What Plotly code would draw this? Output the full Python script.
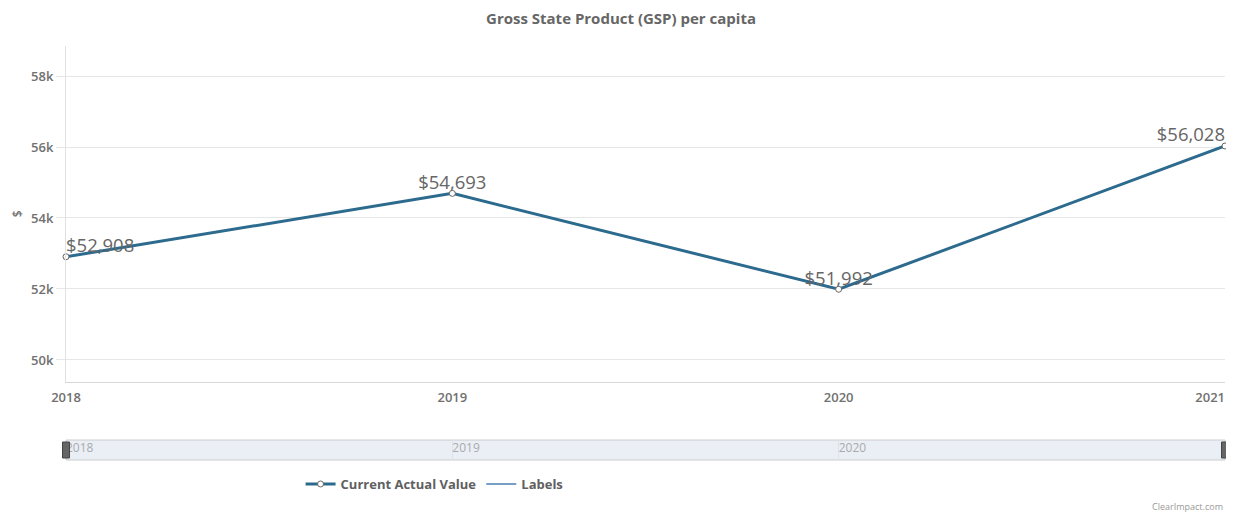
# Line chart of GSP per capita, with a Highcharts-style navigator strip underneath.
# Page body has an 8px default margin, so the figure is sized 8px smaller each way.

import plotly.graph_objects as go

years = [2018, 2019, 2020, 2021]
gsp_per_capita = [52908, 54693, 51992, 56028]
y_ticks = [50000, 52000, 54000, 56000, 58000]
y_tick_labels = ['50k', '52k', '54k', '56k', '58k']
navigator_ticks = [2018, 2019, 2020]

LINE = '#2c6a8e'
TEXT = '#707070'
FONT = 'Open Sans'

labels = ['$' + format(v, ',') for v in gsp_per_capita]
positions = ['top right'] + ['top center'] * (len(years) - 2) + ['top left']

fig = go.Figure()

fig.add_trace(go.Scatter(
    x=years,
    y=gsp_per_capita,
    mode='lines+markers',
    name='Current Actual Value',
    line=dict(color=LINE, width=3),
    marker=dict(size=6, color='white', line=dict(color='#666666', width=1)),
    hovertemplate='%{x}: $%{y:,}<extra></extra>',
    cliponaxis=False,
))

# value labels as a text-only layer so they sit close to the points
fig.add_trace(go.Scatter(
    x=years,
    y=gsp_per_capita,
    mode='text',
    text=labels,
    textposition=positions,
    textfont=dict(family=FONT, size=18.5, color='#666666'),
    showlegend=False,
    hoverinfo='skip',
    cliponaxis=False,
))

# empty series only so the legend shows the "Labels" entry
fig.add_trace(go.Scatter(
    x=[None], y=[None], mode='lines', name='Labels',
    line=dict(color='#4a7fb0', width=1.5),
))

# invisible copy on an overlay axis that carries the last year's label (pulled left)
fig.add_trace(go.Scatter(
    x=years, y=gsp_per_capita, xaxis='x3', yaxis='y', mode='lines',
    line=dict(color='rgba(0,0,0,0)', width=0), showlegend=False, hoverinfo='skip',
))

# navigator strip (no series drawn inside, just grid + labels)
fig.add_trace(go.Scatter(
    x=years, y=gsp_per_capita, xaxis='x2', yaxis='y2', mode='lines',
    line=dict(color='rgba(0,0,0,0)', width=0), showlegend=False, hoverinfo='skip',
))

fig.update_layout(
    width=1226,
    height=504,
    paper_bgcolor='white',
    plot_bgcolor='white',
    font=dict(family=FONT, color=TEXT, size=12),
    margin=dict(l=58, r=9, t=38, b=52, autoexpand=False),
    title=dict(
        text='Gross State Product (GSP) per capita',
        x=0.5, xanchor='center', yref='container', y=0.978, yanchor='middle',
        font=dict(family=FONT, size=15, color='#666666', weight='bold'),
    ),
    xaxis=dict(
        range=[years[0], years[-1]],
        tickvals=years[:-1],
        ticktext=[str(y) for y in years[:-1]],
        ticklabelstandoff=3,
        showgrid=False,
        showline=True, linecolor='#d8d8d8', linewidth=1,
        ticks='', zeroline=False,
        tickfont=dict(family=FONT, size=13, color=TEXT, weight=600),
        anchor='y',
        automargin=False,
        fixedrange=True,
    ),
    xaxis3=dict(
        overlaying='x',
        matches='x',
        anchor='y',
        side='bottom',
        tickvals=years[-1:],
        ticktext=[str(y) for y in years[-1:]],
        ticklabelposition='outside left',
        ticklabeloverflow='allow',
        ticklabelstandoff=6,
        showgrid=False, showline=False, zeroline=False, ticks='',
        tickfont=dict(family=FONT, size=13, color=TEXT, weight=600),
        automargin=False,
        fixedrange=True,
    ),
    yaxis=dict(
        domain=[0.1884, 1],
        range=[49380, 58845],
        tickvals=y_ticks,
        ticktext=y_tick_labels,
        showgrid=True, gridcolor='#e6e6e6', gridwidth=1,
        showline=True, linecolor='#e0e0e0', linewidth=1,
        ticks='outside', ticklen=9, tickcolor='#e6e6e6',
        zeroline=False,
        tickfont=dict(family=FONT, size=13, color=TEXT, weight=600),
        automargin=False,
        fixedrange=True,
    ),
    xaxis2=dict(
        range=[years[0], years[-1]],
        tickvals=navigator_ticks,
        ticktext=[str(y) for y in navigator_ticks],
        ticklabelposition='inside right',
        showgrid=True, gridcolor='#dde3ec', gridwidth=1,
        showline=False, zeroline=False, ticks='',
        tickfont=dict(family=FONT, size=12, color='#aaaaaa'),
        anchor='y2',
        automargin=False,
        fixedrange=True,
    ),
    yaxis2=dict(
        domain=[0, 0.0483],
        range=[0, 1],
        visible=False,
        fixedrange=True,
    ),
    legend=dict(
        orientation='h',
        x=0.318, xanchor='center',
        y=-0.058, yanchor='middle',
        font=dict(family=FONT, size=13, color='#606060', weight='bold'),
        itemwidth=30,
    ),
    shapes=[
        dict(type='rect', xref='x2 domain', yref='y2 domain', x0=0, x1=1, y0=0, y1=1,
             fillcolor='rgba(220,228,240,0.6)', line=dict(color='#cccccc', width=1), layer='below'),
        dict(type='rect', xref='x2 domain', yref='y2 domain', x0=-0.003, x1=0.003, y0=0.1, y1=0.9,
             fillcolor='#666666', line=dict(color='#444444', width=1)),
        dict(type='rect', xref='x2 domain', yref='y2 domain', x0=0.997, x1=1.003, y0=0.1, y1=0.9,
             fillcolor='#666666', line=dict(color='#444444', width=1)),
    ],
    annotations=[
        dict(text='$', xref='paper', yref='y domain', x=-0.042, y=0.5,
             xanchor='center', yanchor='middle', textangle=-90, showarrow=False,
             font=dict(family=FONT, size=12, color=TEXT, weight=600)),
        dict(text='ClearImpact.com', xref='paper', yref='paper', x=1.0, y=-0.1135,
             xanchor='right', yanchor='middle', showarrow=False,
             font=dict(family=FONT, size=9, color='#999999')),
    ],
)

fig.write_html('out.html')
